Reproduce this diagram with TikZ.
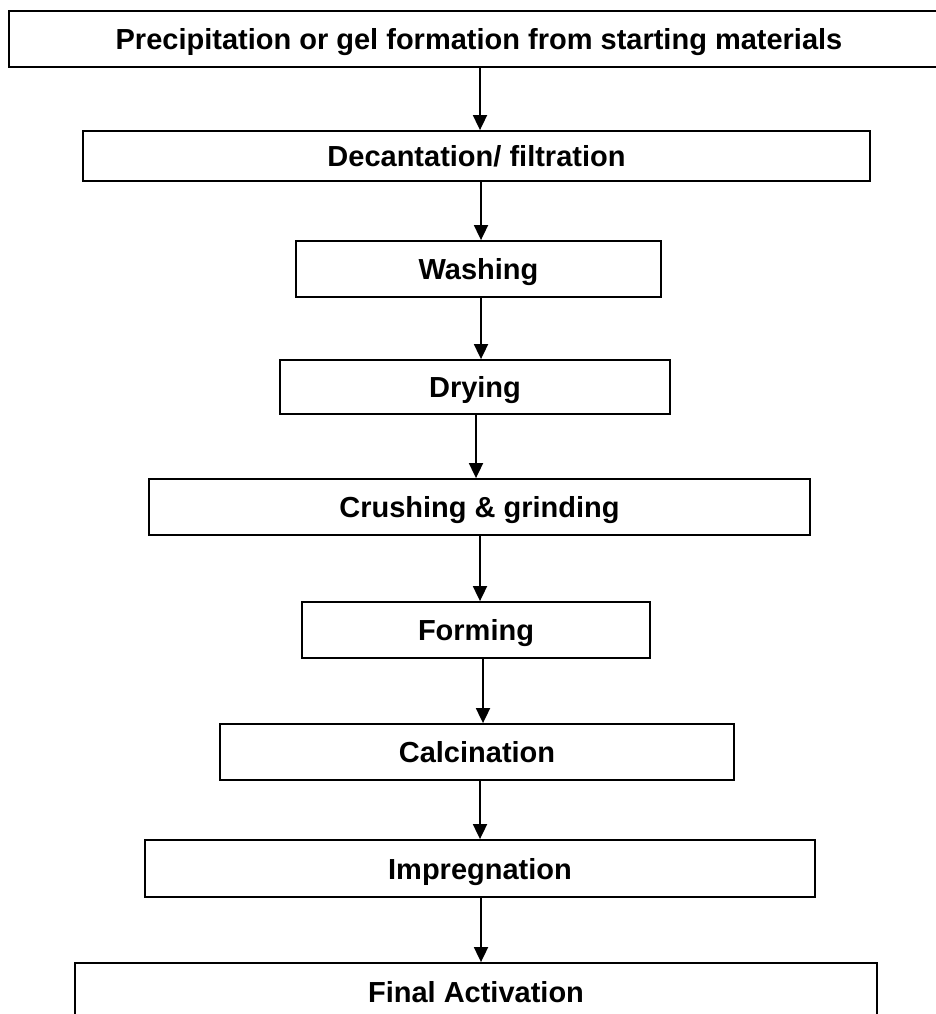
\documentclass[tikz,border=0pt]{standalone}
\usepackage{fontspec}
\setmainfont{Liberation Sans}
\usetikzlibrary{arrows.meta}
\begin{document}
\begin{tikzpicture}[x=1pt,y=-1pt,
  stepbox/.style={draw=black, line width=1.8pt, inner sep=0pt, text height=21pt, text depth=0pt, font=\bfseries\fontsize{29}{34}\selectfont, anchor=center},
  arr/.style={line width=1.8pt, -{Triangle[width=14pt,length=15pt]}}]
\useasboundingbox (0,0) rectangle (935,1014);
\node[stepbox, minimum width=940pt, minimum height=56pt] (b1) at (479,39) {Precipitation or gel formation from starting materials};
\node[stepbox, minimum width=787pt, minimum height=50pt] (b2) at (476.5,156) {Decantation/ filtration};
\node[stepbox, minimum width=365pt, minimum height=56pt] (b3) at (478.5,269) {Washing};
\node[stepbox, minimum width=390pt, minimum height=54pt] (b4) at (475,387) {Drying};
\node[stepbox, minimum width=661pt, minimum height=56pt] (b5) at (479.5,507) {Crushing \& grinding};
\node[stepbox, minimum width=348pt, minimum height=56pt] (b6) at (476,630) {Forming};
\node[stepbox, minimum width=514pt, minimum height=56pt] (b7) at (477,752) {Calcination};
\node[stepbox, minimum width=670pt, minimum height=57pt] (b8) at (480,868.5) {Impregnation};
\node[stepbox, minimum width=802pt, minimum height=58pt] (b9) at (476,992) {Final Activation};
\coordinate (x1) at (480,0);
\coordinate (x2) at (481,0);
\coordinate (x3) at (481,0);
\coordinate (x4) at (476,0);
\coordinate (x5) at (480,0);
\coordinate (x6) at (483,0);
\coordinate (x7) at (480,0);
\coordinate (x8) at (481,0);
\draw[arr] (b1.south -| x1) -- (b2.north -| x1);
\draw[arr] (b2.south -| x2) -- (b3.north -| x2);
\draw[arr] (b3.south -| x3) -- (b4.north -| x3);
\draw[arr] (b4.south -| x4) -- (b5.north -| x4);
\draw[arr] (b5.south -| x5) -- (b6.north -| x5);
\draw[arr] (b6.south -| x6) -- (b7.north -| x6);
\draw[arr] (b7.south -| x7) -- (b8.north -| x7);
\draw[arr] (b8.south -| x8) -- (b9.north -| x8);
\end{tikzpicture}
\end{document}
